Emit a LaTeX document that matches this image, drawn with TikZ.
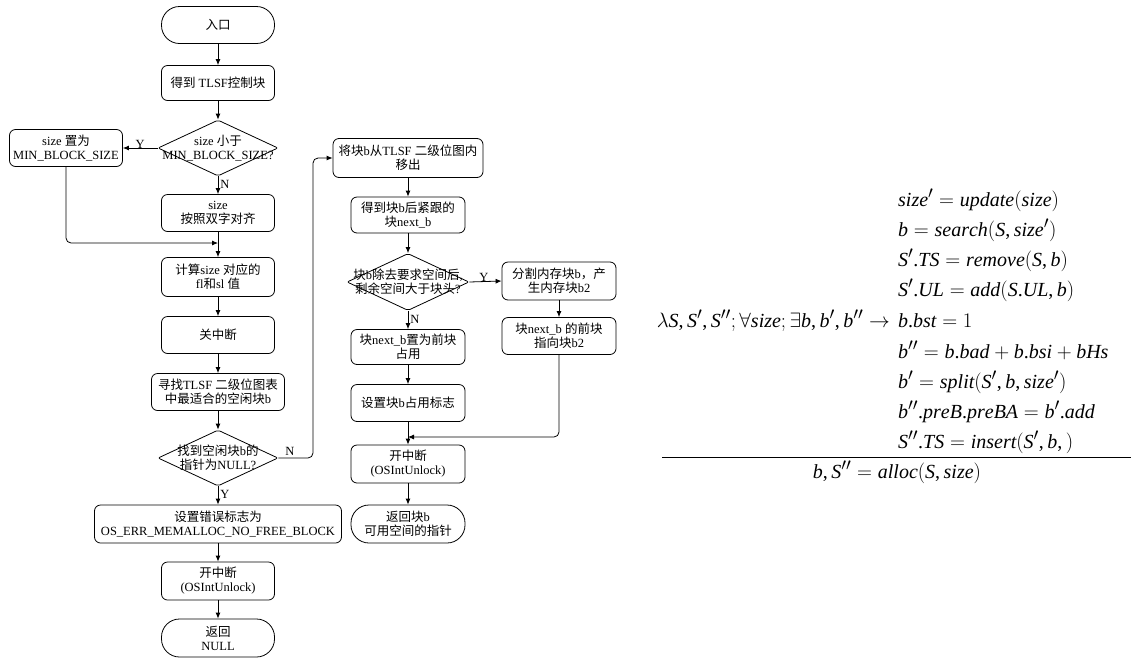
\documentclass[tikz,border=0pt]{standalone}
\usepackage{fontspec}
\setmainfont{Liberation Serif}
\usepackage[italic]{mathastext}
\newfontfamily\cjk{Noto Sans CJK SC}
\usetikzlibrary{shapes.geometric,arrows.meta}
\newcommand\zh[1]{{\cjk #1}}
\tikzset{
  base/.style={draw, line width=0.8pt, align=center, inner sep=1pt,
    font=\fontsize{12.5}{15}\selectfont},
  proc/.style={base, rectangle, rounded corners=6pt, minimum width=113pt, minimum height=37pt},
  term/.style={base, rectangle, rounded corners=18pt, minimum width=113pt, minimum height=37pt},
  dec/.style={draw, line width=0.8pt, diamond, rounded corners=2pt, inner sep=0pt, minimum width=120pt, minimum height=56pt},
  dtext/.style={align=center, inner sep=0pt, font=\fontsize{12.5}{15}\selectfont},
  conn/.style={line width=0.8pt, -{Latex[length=6pt,width=5pt]}},
  plain/.style={line width=0.8pt},
  lbl/.style={font=\fontsize{12.5}{14}\selectfont, inner sep=0pt},
  fml/.style={font=\fontsize{20}{23}\selectfont, inner sep=0pt, anchor=base west}
}
\begin{document}
\begin{tikzpicture}[x=1pt,y=-1pt]
\useasboundingbox (0,0) rectangle (1131,662);
% left column
\node[term] (entry) at (218,25) {\zh{入口}};
\node[proc, minimum height=35pt] (get) at (218,83) {\zh{得到} TLSF\zh{控制块}};
\node[dec] (dec1) at (218,148) {};
\node[dtext] (t1) at (dec1.center) {size \zh{小于}\\[-1pt]MIN\_BLOCK\_SIZE?};
\node[proc] (minb) at (66,148) {size \zh{置为}\\[-1pt]MIN\_BLOCK\_SIZE};
\node[proc] (align) at (218,213) {size\\[-1pt]\zh{按照双字对齐}};
\node[proc, minimum height=39pt] (calc) at (218,277) {\zh{计算}size \zh{对应的}\\[-1pt]fl\zh{和}sl \zh{值}};
\node[proc] (guan) at (218,335) {\zh{关中断}};
\node[proc, minimum width=133pt] (find) at (218,392) {\zh{寻找}TLSF \zh{二级位图表}\\[-1pt]\zh{中最适合的空闲块}b};
\node[dec] (dec2) at (218,458) {};
\node[dtext] (t2) at (dec2.center) {\zh{找到空闲块}b\zh{的}\\[-1pt]\zh{指针为}NULL?};
\node[proc, minimum width=247pt, minimum height=38pt] (err) at (218,524) {\zh{设置错误标志为}\\[-1pt]OS\_ERR\_MEMALLOC\_NO\_FREE\_BLOCK};
\node[proc, minimum height=38pt] (unl1) at (218,581) {\zh{开中断}\\[-1pt](OSIntUnlock)};
\node[term, minimum height=38pt] (retn) at (218,638) {\zh{返回}\\[-1pt]NULL};
% middle column
\node[proc, minimum width=150pt, minimum height=39pt] (remove) at (408,158) {\zh{将块}b\zh{从}TLSF \zh{二级位图内}\\[-1pt]\zh{移出}};
\node[proc, minimum width=114pt, minimum height=36pt] (nextb) at (408,215) {\zh{得到块}b\zh{后紧跟的}\\[-1pt]\zh{块}next\_b};
\node[dec, minimum width=122pt, minimum height=57pt] (dec3) at (408,282) {};
\node[dtext] (t3) at (dec3.center) {\zh{块}b\zh{除去要求空间后},\\[-1pt]\zh{剩余空间大于块头}?};
\node[proc, minimum width=114pt, minimum height=38pt] (split) at (559,281) {\zh{分割内存块}b\zh{，产}\\[-1pt]\zh{生内存块}b2};
\node[proc, minimum width=114pt] (prev) at (559,336) {\zh{块}next\_b \zh{的前块}\\[-1pt]\zh{指向块}b2};
\node[proc, minimum width=114pt, minimum height=35pt] (occ) at (408,347) {\zh{块}next\_b\zh{置为前块}\\[-1pt]\zh{占用}};
\node[proc, minimum width=114pt] (flag) at (408,403) {\zh{设置块}b\zh{占用标志}};
\node[proc, minimum width=114pt, minimum height=38pt] (unl2) at (408,464) {\zh{开中断}\\[-1pt](OSIntUnlock)};
\node[term, minimum width=114pt, minimum height=38pt] (retb) at (408,524) {\zh{返回块}b\\[-1pt]\zh{可用空间的指针}};
% merge points
\coordinate (m1) at (218,243);
\coordinate (m2) at (408,437);
\coordinate (c1) at (313,458);
\coordinate (c2) at (313,158);
% connectors
\draw[conn] (entry) -- (get);
\draw[conn] (get) -- (dec1);
\draw[conn] (dec1) -- node[lbl, above, pos=0.5, yshift=-1pt] (ly1) {Y} (minb);
\draw[conn] (dec1) -- node[lbl, right, pos=0.45, xshift=2pt] (ln1) {N} (align);
\draw[conn, rounded corners=5pt] (minb.south) |- (m1);
\draw[conn] (align) -- (calc);
\draw[conn] (calc) -- (guan);
\draw[conn] (guan) -- (find);
\draw[conn] (find) -- (dec2);
\draw[conn] (dec2) -- node[lbl, right, pos=0.45, xshift=2pt] (ly2) {Y} (err);
\draw[conn] (err) -- (unl1);
\draw[conn] (unl1) -- (retn);
\draw[conn, rounded corners=5pt] (dec2.east) -- (c1) -- (c2) -- (remove.west);
\node[lbl] (ln2) at (290,451) {N};
\draw[conn] (remove) -- (nextb);
\draw[conn] (nextb) -- (dec3);
\draw[conn] (dec3.east) -- node[lbl, above, pos=0.45] (ly3) {Y} (split.west);
\draw[conn] (split) -- (prev);
\draw[conn] (dec3) -- node[lbl, right, pos=0.45, xshift=2pt] (ln3) {N} (occ);
\draw[conn] (occ) -- (flag);
\draw[conn] (flag) -- (unl2);
\draw[conn, rounded corners=5pt] (prev.south) |- (m2);
\draw[conn] (unl2) -- (retb);
% formulas
\node[fml] (f1) at (898,206) {$size' = update(size)$};
\node[fml] (f2) at (898,236) {$b = search(S, size')$};
\node[fml] (f3) at (898,266) {$S'.TS = remove(S,b)$};
\node[fml] (f4) at (898,296) {$S'.UL = add(S.UL,b)$};
\node[fml, anchor=base east] (f5) at (890,327) {$\lambda S, S', S'';\forall size;\exists b, b', b'' \rightarrow$};
\node[fml] (f6) at (898,327) {$b.bst = 1$};
\node[fml] (f7) at (898,358) {$b'' = b.bad + b.bsi + bHs$};
\node[fml] (f8) at (898,388) {$b' = split(S', b, size')$};
\node[fml] (f9) at (898,418) {$b''.preB.preBA = b'.add$};
\node[fml] (f10) at (898,448) {$S''.TS = insert(S', b,)$};
\draw[plain] (662,457) coordinate (r1) -- (1131,457) coordinate (r2);
\node[fml, anchor=base] (f11) at (897,478) {$b, S'' = alloc(S, size)$};
\end{tikzpicture}
\end{document}
